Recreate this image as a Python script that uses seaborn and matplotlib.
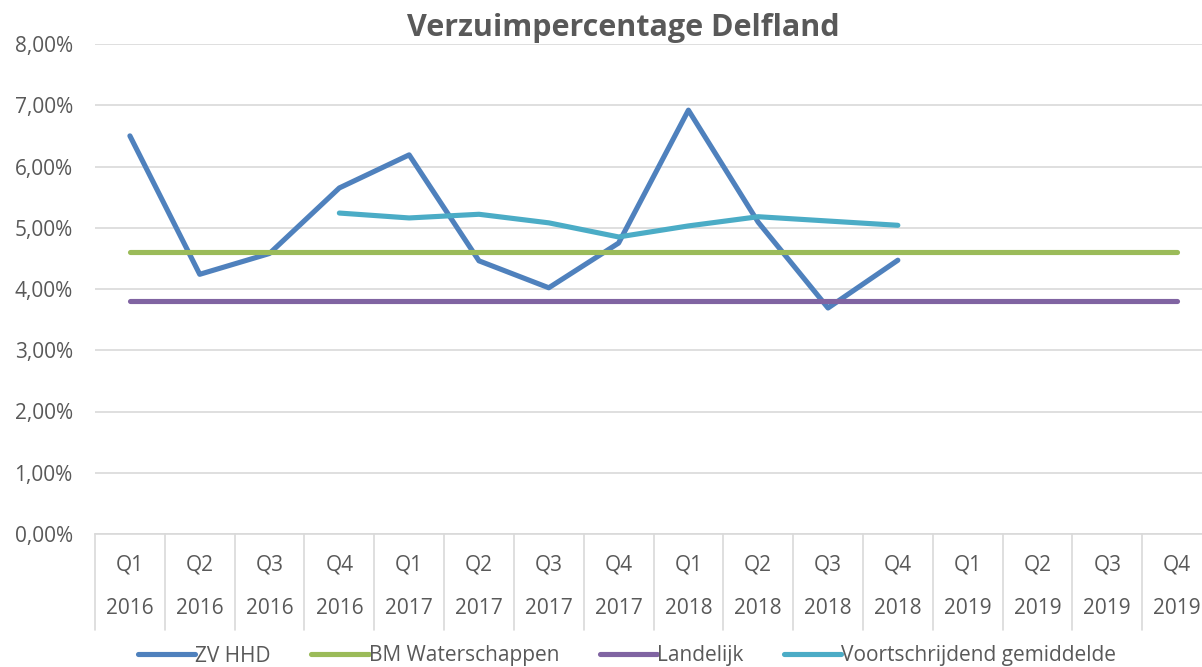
import matplotlib
matplotlib.use("Agg")
import matplotlib.pyplot as plt
import seaborn as sns
import pandas as pd
import numpy as np

quarters = ["Q1", "Q2", "Q3", "Q4"] * 4
years = ["2016"] * 4 + ["2017"] * 4 + ["2018"] * 4 + ["2019"] * 4

zv_hhd = [6.50, 4.24, 4.58, 5.65, 6.19, 4.46, 4.02, 4.75, 6.92, 5.09, 3.69, 4.47]
bm_waterschappen = [4.60] * 16
landelijk = [3.80] * 16
voortschrijdend = [None, None, None, 5.24, 5.16, 5.22, 5.08, 4.85, 5.03, 5.18, 5.11, 5.04]

series_names = ["ZV HHD", "BM Waterschappen", "Landelijk", "Voortschrijdend gemiddelde"]
series_values = [zv_hhd, bm_waterschappen, landelijk, voortschrijdend]
colors = ["#4F81BD", "#9BBB59", "#8064A2", "#4BACC6"]

rows = []
for name, vals in zip(series_names, series_values):
    for i, v in enumerate(vals):
        if v is not None:
            rows.append({"idx": i, "value": v / 100.0, "series": name})
df = pd.DataFrame(rows)

sns.set_theme(style="white")
plt.rcParams["font.family"] = ["Open Sans", "DejaVu Sans"]

W, H = 1202, 667
fig = plt.figure(figsize=(W / 100, H / 100), dpi=100)
ax = fig.add_axes([95 / W, 133 / H, 1117 / W, 490 / H])

sns.lineplot(data=df, x="idx", y="value", hue="series", hue_order=series_names,
             palette=colors, linewidth=3.7, ax=ax, solid_capstyle="round", legend=True)

grid_c = "#D9D9D9"
text_c = "#595959"
fs = 15
ax.set_xlim(-0.5, 15.5)
ax.set_ylim(0, 0.08)
ax.set_yticks(np.arange(0, 0.081, 0.01))
ax.set_yticklabels([f"{v:.2f}%".replace(".", ",") for v in np.arange(0, 8.01, 1.0)],
                   color=text_c, fontsize=fs)
ax.yaxis.grid(True, color=grid_c, linewidth=1.2)
ax.set_axisbelow(True)
for s in ["left", "right", "top"]:
    ax.spines[s].set_visible(False)
ax.spines["bottom"].set_color(grid_c)
ax.spines["bottom"].set_linewidth(1.2)
ax.tick_params(axis="y", length=0, pad=16)
ax.tick_params(axis="x", length=0)
ax.set_xticks(range(16))
ax.set_xticklabels([])
ax.set_xlabel("")
ax.set_ylabel("")

# category labels and separators
trans = matplotlib.transforms.blended_transform_factory(ax.transData, ax.transAxes)
for i, (q, y) in enumerate(zip(quarters, years)):
    ax.text(i, -31 / 490, q, transform=trans, ha="center", va="center",
            color=text_c, fontsize=fs, clip_on=False)
    ax.text(i, -75 / 490, y, transform=trans, ha="center", va="center",
            color=text_c, fontsize=fs, clip_on=False)
for i in range(17):
    ax.plot([i - 0.5, i - 0.5], [0, -96 / 490], transform=trans, color=grid_c,
            linewidth=1.2, clip_on=False)

fig.text(623 / W, 1 - 28 / H, "Verzuimpercentage Delfland", fontsize=22,
         fontweight="bold", color=text_c, ha="center", va="center")

handles, labels = ax.get_legend_handles_labels()
ax.get_legend().remove()
for h in handles:
    h.set_solid_capstyle("round")
leg = fig.legend(handles, labels, loc="center", bbox_to_anchor=(627 / W, 1 - 656 / H),
                 ncol=4, frameon=False, fontsize=fs, handlelength=2.75,
                 handletextpad=0.0, columnspacing=1.95, labelcolor=text_c)

fig.savefig("out.png", dpi=100)
